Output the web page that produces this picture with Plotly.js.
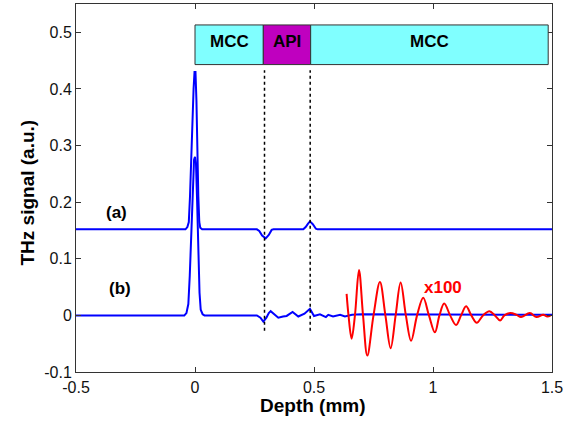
<!DOCTYPE html>
<html>
<head>
<meta charset="utf-8">
<script src="https://cdn.plot.ly/plotly-3.0.1.min.js"></script>
<style>html,body{margin:0;padding:0;background:#fff;}#chart{width:581px;height:423px;}</style>
</head>
<body>
<div id="chart"></div>
<script>
// Signal (a): offset trace
const depthA = [-0.5, -0.04, -0.032, -0.026, -0.021, -0.017, -0.012, -0.006, -0.002, 0.002, 0.006, 0.010, 0.014, 0.018, 0.022, 0.03,
  0.26, 0.27, 0.282, 0.297, 0.31, 0.322, 0.33, 0.455, 0.465, 0.475, 0.483, 0.495, 0.508, 0.515, 1.5];
const signalA = [0.152, 0.152, 0.156, 0.165, 0.21, 0.27, 0.33, 0.40, 0.43, 0.43, 0.38, 0.28, 0.21, 0.165, 0.155, 0.152,
  0.152, 0.149, 0.141, 0.136, 0.142, 0.151, 0.152, 0.152, 0.156, 0.162, 0.166, 0.161, 0.153, 0.152, 0.152];

// Signal (b)
const depthB = [-0.5, -0.045, -0.036, -0.028, -0.022, -0.016, -0.01, -0.004, 0.0, 0.004, 0.009, 0.014, 0.019, 0.024, 0.032, 0.04,
  0.26, 0.275, 0.287, 0.30, 0.31, 0.318, 0.33, 0.35, 0.37, 0.385, 0.41, 0.434, 0.46, 0.483, 0.5, 0.525, 0.55, 0.56, 0.58, 0.61, 0.63, 0.66, 0.7, 0.8, 1.0, 1.2, 1.5];
const signalB = [0, 0, 0.004, 0.02, 0.07, 0.14, 0.22, 0.275, 0.28, 0.27, 0.2, 0.11, 0.04, 0.01, 0.002, 0,
  0, -0.004, -0.011, -0.004, 0.004, 0.0075, 0.003, -0.004, -0.002, -0.001, 0.006, -0.002, 0.003, 0.0116, -0.001, 0.002, -0.003, 0.001, -0.002, 0.001, -0.002, 0.001, 0.002, 0.002, 0.002, 0.001, 0.001];

// Signal (b) magnified x100
const depthX100 = [0.637, 0.645, 0.658, 0.672, 0.689, 0.706, 0.724, 0.750, 0.777, 0.800, 0.822, 0.843, 0.864, 0.886, 0.908, 0.933,
  0.959, 0.983, 1.008, 1.027, 1.047, 1.072, 1.097, 1.118, 1.139, 1.161, 1.184, 1.21, 1.237, 1.26, 1.282, 1.30, 1.324, 1.351, 1.37, 1.407, 1.435, 1.463, 1.48, 1.495];
const signalX100 = [0.038, 0.0, -0.041, 0.0, 0.080, 0.0, -0.071, 0.0, 0.059, 0.0, -0.058, 0.0, 0.058, 0.0, -0.045, 0.0,
  0.031, 0.0, -0.030, 0.0, 0.021, 0.0, -0.017, 0.0, 0.016, 0.0, -0.013, 0.0, 0.0075, 0.0, -0.009, 0.0, 0.004, 0.001, -0.003, 0.004, -0.003, 0.001, -0.002, 0.0];

// Layer boxes
const layerNames = ['MCC', 'API', 'MCC'];
const layerStart = [0.0, 0.287, 0.486];
const layerEnd = [0.287, 0.486, 1.484];
const layerBottom = 0.443, layerTop = 0.513;
const interfaceDepths = [0.292, 0.484];
const interfaceTop = 0.433, interfaceBottom = -0.027;

const xTicks = [-0.5, 0, 0.5, 1, 1.5];
const xTickText = ['-0.5', '0', '0.5', '1', '1.5'];
const yTicks = [-0.1, 0, 0.1, 0.2, 0.3, 0.4, 0.5];
const yTickText = ['-0.1', '0', '0.1', '0.2', '0.3', '0.4', '0.5'];

const FONT = 'Liberation Sans, Arial, sans-serif';
const layerFill = ['#80ffff', '#bf00bf', '#80ffff'];

const traces = [
  {x: depthA, y: signalA, mode: 'lines', line: {color: '#0000ff', width: 2}, hoverinfo: 'skip'},
  {x: depthB, y: signalB, mode: 'lines', line: {color: '#0000ff', width: 2}, hoverinfo: 'skip'},
  {x: depthX100, y: signalX100, mode: 'lines', line: {color: '#ff0000', width: 2, shape: 'spline', smoothing: 1}, hoverinfo: 'skip'}
];

const shapes = [];
const annotations = [];
for (let i = 0; i < layerNames.length; i++) {
  shapes.push({type: 'rect', xref: 'x', yref: 'y', x0: layerStart[i], x1: layerEnd[i], y0: layerBottom, y1: layerTop,
    fillcolor: layerFill[i], line: {color: '#333333', width: 1}, layer: 'above'});
  annotations.push({xref: 'x', yref: 'y', x: (layerStart[i] + layerEnd[i]) / 2, y: (layerBottom + layerTop) / 2 + 0.006,
    text: '<b>' + layerNames[i] + '</b>', showarrow: false, font: {family: FONT, size: 17, color: '#000'}});
}
interfaceDepths.forEach(d => shapes.push({type: 'line', xref: 'x', yref: 'y', x0: d, x1: d, y0: interfaceBottom, y1: interfaceTop,
  line: {color: '#000', width: 1.5, dash: 'dot'}}));

annotations.push({xref: 'x', yref: 'y', x: -0.328, y: 0.182, text: '<b>(a)</b>', showarrow: false, font: {family: FONT, size: 17, color: '#000'}});
annotations.push({xref: 'x', yref: 'y', x: -0.315, y: 0.048, text: '<b>(b)</b>', showarrow: false, font: {family: FONT, size: 17, color: '#000'}});
annotations.push({xref: 'x', yref: 'y', x: 1.042, y: 0.049, text: '<b>x100</b>', showarrow: false, font: {family: FONT, size: 17, color: '#ff0000'}});
annotations.push({xref: 'paper', yref: 'paper', x: (313 - 76) / 476, y: -(405 - 372) / 368, xanchor: 'center', yanchor: 'middle',
  text: '<b>Depth (mm)</b>', showarrow: false, font: {family: FONT, size: 19, color: '#000'}});
annotations.push({xref: 'paper', yref: 'paper', x: (27 - 76) / 476, y: (372 - 192.5) / 368, xanchor: 'center', yanchor: 'middle', textangle: -90,
  text: '<b>THz signal (a.u.)</b>', showarrow: false, font: {family: FONT, size: 19, color: '#000'}});

const axisCommon = {showgrid: false, zeroline: false, showline: true, linecolor: '#333', linewidth: 1, mirror: 'allticks',
  ticks: 'inside', ticklen: 5, tickcolor: '#333', tickfont: {family: FONT, size: 16, color: '#111'}};

const layout = {
  width: 581, height: 423,
  margin: {l: 76, r: 29, t: 4, b: 51},
  paper_bgcolor: '#fff', plot_bgcolor: '#fff',
  showlegend: false,
  xaxis: Object.assign({}, axisCommon, {range: [-0.5, 1.5], tickvals: xTicks, ticktext: xTickText, ticklabelstandoff: 1}),
  yaxis: Object.assign({}, axisCommon, {range: [-0.1, 0.55], tickvals: yTicks, ticktext: yTickText}),
  shapes: shapes,
  annotations: annotations
};

Plotly.newPlot('chart', traces, layout, {staticPlot: true, displayModeBar: false});
</script>
</body>
</html>
